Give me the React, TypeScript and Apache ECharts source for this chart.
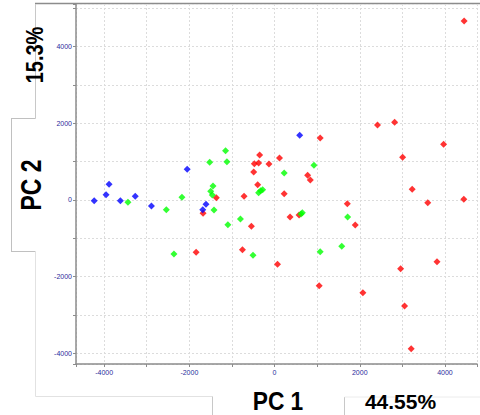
import React, { useEffect, useRef } from "react";
import * as echarts from "echarts";

// PC1 / PC2 scores
const redX = [-1678, -1367, -1841, -753, -715, -544, -489, -474, -373, -350, -396, -132, 70, 116, 4450, 2416, 2819, 3968, 3006, 1072, 776, 839, 226, 3231, 3596, 4443, 1708, 575, 365, 1895, 1048, 2074, 2959, 3813, 3052, 3208];
const redY = [-348, 61, -1366, -1296, 96, -687, 730, 948, 965, 1174, 400, 939, -1678, 1096, 4670, 1957, 2027, 1453, 1113, 1617, 644, 522, 165, 279, -70, 18, -96, -391, -443, -652, -2235, -2418, -1791, -1609, -2765, -3878];

const greenX = [-3441, -2540, -2174, -2361, -1522, -1149, -1118, -1445, -1499, -1460, -1421, -1095, -800, -505, -373, -326, -280, 226, 925, 652, 621, 1716, 1072, 1578];
const greenY = [-61, -252, 70, -1409, 983, 1287, 1000, 365, 226, 130, -261, -643, -496, -1444, 191, 243, 270, 704, 905, -331, -365, -443, -1348, -1209];

const blueX = [-4233, -3954, -3884, -3619, -3269, -2889, -2050, -1608, -1685, 590];
const blueY = [-18, 138, 409, -18, 96, -157, 800, -113, -252, 1687];

const xTitle = "PC 1";
const xPct = "44.55%";
const yTitle = "PC 2";
const yPct = "15.3%";

const zip = (xs: number[], ys: number[]) => xs.map((x, i) => [x, ys[i]]);

const labelFmt = (v: number) => (Math.abs(v % 2000) < 1e-6 ? String(v) : "");

const axisCommon = {
  type: "value" as const,
  splitNumber: 10,
  axisLine: { show: true, onZero: false, lineStyle: { color: "#8c8c8c", width: 1.5 } },
  axisTick: { show: true, length: 3, lineStyle: { color: "#8c8c8c", width: 1 } },
  axisLabel: {
    formatter: labelFmt,
    fontSize: 7,
    color: "#2b2b9b",
    fontFamily: "Liberation Sans, Arial, sans-serif",
  },
  splitLine: { show: true, lineStyle: { color: "#dcdcdc", width: 1, type: [2, 2] as any } },
};

const line = (x1: number, y1: number, x2: number, y2: number, stroke: string, lw = 1) => ({
  type: "line",
  shape: { x1, y1, x2, y2 },
  style: { stroke, lineWidth: lw },
  silent: true,
});

const bigText = (
  text: string,
  x: number,
  y: number,
  fontSize: number,
  scaleX: number,
  rotation = 0
) => ({
  type: "text",
  x,
  y,
  rotation,
  scaleX,
  silent: true,
  style: {
    text,
    fill: "#000",
    fontSize,
    fontWeight: "bold",
    fontFamily: "Liberation Sans, Arial, sans-serif",
    align: "center",
    verticalAlign: "middle",
  },
});

export default function App() {
  const ref = useRef<HTMLDivElement>(null);
  useEffect(() => {
    if (!ref.current) return;
    const chart = echarts.init(ref.current, undefined, { renderer: "svg" });
    const sym = { symbol: "diamond", symbolSize: 7 };
    chart.setOption({
      animation: false,
      backgroundColor: "#fff",
      grid: { left: 76, top: 4, right: 0, bottom: 51, containLabel: false },
      xAxis: { ...axisCommon, min: -4660, max: 4752, axisLabel: { ...axisCommon.axisLabel, margin: 5 } },
      yAxis: { ...axisCommon, min: -4279, max: 5113, axisLabel: { ...axisCommon.axisLabel, margin: 4 } },
      series: [
        { type: "scatter", data: zip(redX, redY), itemStyle: { color: "#ff0000" }, ...sym },
        { type: "scatter", data: zip(greenX, greenY), itemStyle: { color: "#00ff00" }, ...sym },
        { type: "scatter", data: zip(blueX, blueY), itemStyle: { color: "#0000ff" }, ...sym },
      ],
      graphic: [
        line(35, 3.5, 480, 3.5, "#8c8c8c", 1.5),
        line(35.5, 4, 35.5, 118.5, "#c8c8c8"),
        line(11, 118.5, 35.5, 118.5, "#c0c0c0"),
        line(11.5, 118.5, 11.5, 252, "#c0c0c0"),
        line(11, 251.5, 35.5, 251.5, "#c0c0c0"),
        line(35.5, 251.5, 35.5, 396.5, "#e2e2e2"),
        line(35.5, 396.5, 212.5, 396.5, "#e2e2e2"),
        line(212.5, 396.5, 212.5, 415, "#c8c8c8"),
        line(344.5, 397, 344.5, 415, "#c8c8c8"),
        line(344.5, 397, 480, 397, "#ececec"),
        bigText(yPct, 35, 55, 23, 0.87, Math.PI / 2),
        bigText(yTitle, 31, 185, 29, 0.79, Math.PI / 2),
        bigText(xTitle, 278, 401, 25, 0.91),
        bigText(xPct, 400.5, 402, 20, 1.05),
      ],
    });
    return () => chart.dispose();
  }, []);
  return (
    <div
      ref={ref}
      style={{ position: "fixed", left: 0, top: 0, width: 480, height: 415 }}
    />
  );
}
